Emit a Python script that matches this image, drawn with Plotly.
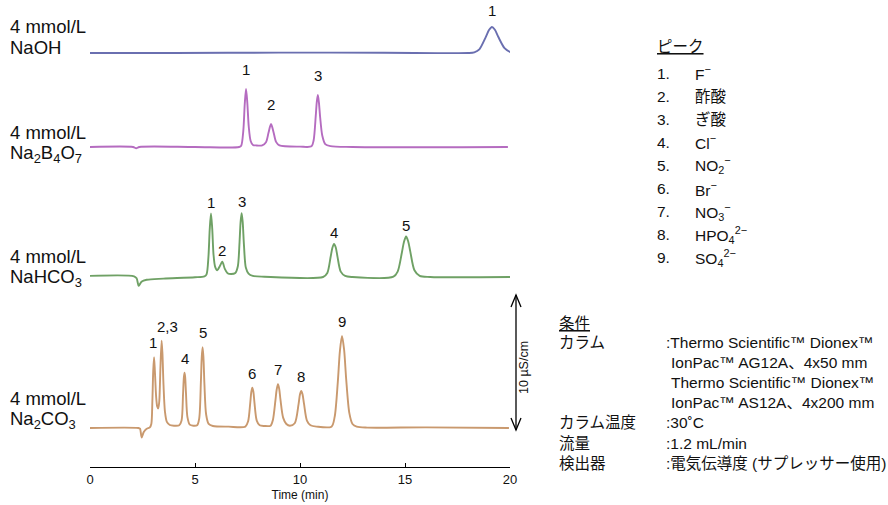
import plotly.graph_objects as go

# ---------------- data ----------------
# Time axis in minutes, signal in µS/cm relative to each trace's baseline
naoh_t = [0.0, 4.0, 9.0, 14.0, 18.0, 18.3, 18.54, 18.84, 19.0, 19.14, 19.28, 19.44, 19.74, 20.0, 20.24]
naoh_y = [0.0, 0.0, 0.03, 0.02, 0.0, 0.05, 0.27, 1.16, 1.7, 1.93, 1.72, 1.2, 0.36, 0.08, 0.0]

b4o7_t = [0.0, 2.05, 2.2, 2.35, 5.0, 7.1, 7.2, 7.3, 7.37, 7.43, 7.49, 7.56, 7.65, 7.76, 7.9,
          8.2, 8.38, 8.5, 8.62, 8.74, 8.86, 9.02, 10.0, 10.55, 10.65, 10.75, 10.8, 10.85, 10.9,
          10.96, 11.06, 11.2, 11.45, 12.5, 19.9]
b4o7_y = [0.0, 0.0, -0.09, 0.0, 0.0, 0.0, 0.1, 1.2, 3.2, 4.3, 3.3, 1.5, 0.45, 0.15, 0.12,
          0.12, 0.35, 1.05, 1.7, 1.1, 0.38, 0.12, 0.03, 0.05, 0.5, 2.3, 3.35, 3.85, 3.3,
          2.2, 0.85, 0.22, 0.06, 0.0, 0.0]

hco3_t = [0.0, 2.1, 2.22, 2.32, 2.45, 2.7, 3.5, 5.0, 5.45, 5.55, 5.64, 5.7, 5.76, 5.82, 5.88,
          5.96, 6.06, 6.18, 6.3, 6.42, 6.55, 6.72, 6.92, 7.04, 7.12, 7.17, 7.22, 7.27, 7.33,
          7.42, 7.55, 7.75, 8.3, 11.1, 11.3, 11.46, 11.54, 11.62, 11.7, 11.78, 11.94, 12.15,
          12.5, 14.45, 14.65, 14.85, 14.95, 15.05, 15.15, 15.25, 15.45, 15.7, 16.2, 20.1]
hco3_y = [0.08, 0.05, -0.1, -0.65, -0.35, -0.2, -0.12, -0.02, 0.05, 0.2, 1.5, 3.5, 4.7, 3.6, 1.7,
          0.75, 0.5, 0.8, 1.13, 0.6, 0.28, 0.22, 0.3, 0.8, 2.55, 4.05, 4.72, 4.1, 2.4,
          0.7, 0.25, 0.08, 0.02, 0.0, 0.3, 1.5, 2.15, 2.45, 2.2, 1.55, 0.4, 0.08,
          0.0, 0.02, 0.4, 1.8, 2.6, 3.0, 2.65, 1.9, 0.5, 0.08, 0.0, 0.0]

co3_t = [0.0, 2.3, 2.38, 2.46, 2.56, 2.7, 2.85, 2.92, 2.97, 3.01, 3.05, 3.09, 3.15, 3.2, 3.25,
         3.3, 3.35, 3.41, 3.45, 3.5, 3.57, 3.66, 3.8, 4.0, 4.25, 4.36, 4.43, 4.47, 4.5, 4.53,
         4.57, 4.64, 4.75, 4.92, 5.1, 5.2, 5.28, 5.32, 5.36, 5.4, 5.45, 5.53, 5.65, 5.85, 6.6,
         7.4, 7.53, 7.63, 7.68, 7.73, 7.78, 7.83, 7.94, 8.08, 8.3, 8.6, 8.71, 8.83, 8.89, 8.95,
         9.01, 9.07, 9.2, 9.35, 9.52, 9.75, 9.93, 10.0, 10.06, 10.12, 10.19, 10.33, 10.5, 10.8,
         11.5, 11.65, 11.8, 11.9, 12.0, 12.1, 12.2, 12.35, 12.5, 12.7, 13.2, 16.0, 19.95]
co3_y = [0.0, 0.0, -0.05, -0.7, -0.3, -0.05, 0.05, 0.3, 2.0, 4.2, 5.24, 4.2, 2.3, 1.6, 1.45,
         2.0, 4.3, 6.47, 5.5, 3.2, 1.2, 0.45, 0.22, 0.17, 0.2, 0.55, 2.5, 3.75, 4.1, 3.8,
         2.6, 0.8, 0.25, 0.17, 0.2, 0.7, 3.4, 5.2, 5.98, 5.3, 3.2, 1.0, 0.3, 0.15, 0.1,
         0.1, 0.5, 1.85, 2.65, 2.99, 2.7, 1.9, 0.55, 0.2, 0.15, 0.17, 0.6, 2.05, 2.85, 3.24,
         2.9, 2.1, 0.75, 0.3, 0.17, 0.35, 1.75, 2.5, 2.74, 2.5, 1.8, 0.55, 0.2, 0.1,
         0.1, 0.82, 3.4, 5.7, 6.81, 5.8, 3.6, 1.1, 0.3, 0.1, 0.03, 0.05, 0.0]

naoh_peaks = ["1"]
naoh_peak_t = [19.14]
b4o7_peaks = ["1", "2", "3"]
b4o7_peak_t = [7.43, 8.62, 10.85]
hco3_peaks = ["1", "2", "3", "4", "5"]
hco3_peak_t = [5.76, 6.3, 7.22, 11.62, 15.05]
co3_peaks = ["1", "2,3", "4", "5", "6", "7", "8", "9"]
co3_peak_t = [3.0, 3.67, 4.5, 5.36, 7.73, 8.95, 10.06, 12.0]

eluent_conc = "4 mmol/L"
eluents = ["NaOH", "Na<sub>2</sub>B<sub>4</sub>O<sub>7</sub>", "NaHCO<sub>3</sub>",
           "Na<sub>2</sub>CO<sub>3</sub>"]

x_ticks = [0, 5, 10, 15, 20]
x_title = "Time (min)"
scale_value = 10
scale_label = "10 µS/cm"

peak_title = "ピーク"
peak_numbers = ["1.", "2.", "3.", "4.", "5.", "6.", "7.", "8.", "9."]
peak_names = ["F<sup>−</sup>", "酢酸", "ぎ酸", "Cl<sup>−</sup>", "NO<sub>2</sub><sup>−</sup>",
              "Br<sup>−</sup>", "NO<sub>3</sub><sup>−</sup>", "HPO<sub>4</sub><sup>2−</sup>",
              "SO<sub>4</sub><sup>2−</sup>"]

cond_title = "条件"
cond_labels = ["カラム", "", "", "", "カラム温度", "流量", "検出器"]
cond_values = [":Thermo Scientific™ Dionex™", "IonPac™ AG12A、4x50 mm",
               "Thermo Scientific™ Dionex™", "IonPac™ AS12A、4x200 mm",
               ":30˚C", ":1.2 mL/min", ":電気伝導度 (サプレッサー使用)"]

# ---------------- layout constants ----------------
W, H = 888, 505
PX_PER_UNIT = 13.5
AXIS_Y_PX = 467
X0_PX, X1_PX = 90, 510
FONT = "Liberation Sans, Arial, Noto Sans CJK JP, sans-serif"
TXT = "#111111"


def pxx(x):
    return x / W


def pxy(y):
    return 1 - y / H


def base_of(px_y):
    return (AXIS_Y_PX - px_y) / PX_PER_UNIT


def val_to_paper(v):
    # data value on the (hidden) y axis -> paper fraction
    return (H - AXIS_Y_PX) / H + v * PX_PER_UNIT / H


traces = [
    dict(t=naoh_t, y=naoh_y, color="#6a6fb0", base_px=53, labels=naoh_peaks, label_t=naoh_peak_t,
         shift=6, txt_px=(26, 48)),
    dict(t=b4o7_t, y=b4o7_y, color="#b56cc0", base_px=147, labels=b4o7_peaks, label_t=b4o7_peak_t,
         shift=9, txt_px=(132, 154)),
    dict(t=hco3_t, y=hco3_y, color="#6fa165", base_px=277, labels=hco3_peaks, label_t=hco3_peak_t,
         shift=1, txt_px=(256, 278)),
    dict(t=co3_t, y=co3_y, color="#c9996e", base_px=428, labels=co3_peaks, label_t=co3_peak_t,
         shift=4, txt_px=(398, 420)),
]

fig = go.Figure()
annotations = []
shapes = []

for tr, eluent in zip(traces, eluents):
    assert len(tr["t"]) == len(tr["y"])
    off = base_of(tr["base_px"])
    fig.add_trace(go.Scatter(
        x=tr["t"], y=[v + off for v in tr["y"]], mode="lines",
        line=dict(color=tr["color"], width=1.9, shape="spline", smoothing=0.8),
        hoverinfo="skip", showlegend=False, cliponaxis=False))
    for lab, lt in zip(tr["labels"], tr["label_t"]):
        apex = max(v for t, v in zip(tr["t"], tr["y"]) if abs(t - lt) <= 0.3)
        annotations.append(dict(x=lt, y=apex + off, xref="x", yref="y", text=lab, showarrow=False,
                                xanchor="center", yanchor="bottom", yshift=tr["shift"],
                                font=dict(size=15, color=TXT)))
    annotations.append(dict(x=pxx(8), y=pxy(tr["txt_px"][0]), xref="paper", yref="paper",
                            text=eluent_conc, showarrow=False, xanchor="left", yanchor="middle",
                            font=dict(size=18.5, color=TXT)))
    annotations.append(dict(x=pxx(8), y=pxy(tr["txt_px"][1]), xref="paper", yref="paper",
                            text=eluent, showarrow=False, xanchor="left", yanchor="middle",
                            font=dict(size=18.5, color=TXT)))

# scale bar (10 µS/cm) next to the bottom trace
co3_base = base_of(traces[3]["base_px"]) - 0.15
bar_x = pxx(516)
y_lo = val_to_paper(co3_base)
y_hi = val_to_paper(co3_base + scale_value)
shapes.append(dict(type="line", x0=bar_x, x1=bar_x, y0=y_lo, y1=y_hi,
                   xref="paper", yref="paper", line=dict(color="black", width=1.3)))
shapes.append(dict(type="path", xref="paper", yref="paper", xsizemode="pixel", ysizemode="pixel",
                   xanchor=bar_x, yanchor=y_hi,
                   path="M -5,-12 L 0,0 L 5,-12", line=dict(color="black", width=1.3)))
shapes.append(dict(type="path", xref="paper", yref="paper", xsizemode="pixel", ysizemode="pixel",
                   xanchor=bar_x, yanchor=y_lo,
                   path="M -5,12 L 0,0 L 5,12", line=dict(color="black", width=1.3)))
annotations.append(dict(x=pxx(524), y=pxy(368), xref="paper", yref="paper", text=scale_label,
                        textangle=-90, showarrow=False, xanchor="center", yanchor="middle",
                        font=dict(size=12.5, color=TXT)))

# peak legend
annotations.append(dict(x=pxx(655), y=pxy(47), xref="paper", yref="paper",
                        text="<u>" + peak_title + "</u>", showarrow=False, xanchor="left",
                        yanchor="middle", font=dict(size=15.5, color=TXT)))
for i, (num, name) in enumerate(zip(peak_numbers, peak_names)):
    yy = 73 + i * 23.1
    annotations.append(dict(x=pxx(655), y=pxy(yy), xref="paper", yref="paper", text=num,
                            showarrow=False, xanchor="left", yanchor="middle",
                            font=dict(size=15.5, color=TXT)))
    annotations.append(dict(x=pxx(693), y=pxy(yy), xref="paper", yref="paper", text=name,
                            showarrow=False, xanchor="left", yanchor="middle",
                            font=dict(size=15.5, color=TXT)))

# conditions
annotations.append(dict(x=pxx(557), y=pxy(323), xref="paper", yref="paper",
                        text="<u>" + cond_title + "</u>", showarrow=False, xanchor="left",
                        yanchor="middle", font=dict(size=15.5, color=TXT)))
for i, (lab, val) in enumerate(zip(cond_labels, cond_values)):
    yy = 342 + i * 20.2
    if lab:
        annotations.append(dict(x=pxx(557), y=pxy(yy), xref="paper", yref="paper", text=lab,
                                showarrow=False, xanchor="left", yanchor="middle",
                                font=dict(size=15.5, color=TXT)))
    vx = 664 if val.startswith(":") else 669
    annotations.append(dict(x=pxx(vx), y=pxy(yy), xref="paper", yref="paper", text=val,
                            showarrow=False, xanchor="left", yanchor="middle",
                            font=dict(size=15.5, color=TXT)))

fig.update_layout(
    width=W, height=H,
    margin=dict(l=0, r=0, t=0, b=0, pad=0),
    paper_bgcolor="white", plot_bgcolor="white",
    font=dict(family=FONT, color=TXT),
    xaxis=dict(domain=[X0_PX / W, X1_PX / W], range=[0, 20], showline=True, linecolor="black",
               linewidth=1.3, ticks="inside", ticklen=4, tickcolor="black", tickwidth=1.2,
               tickvals=x_ticks, ticktext=[str(v) for v in x_ticks], tickfont=dict(size=13),
               showgrid=False, zeroline=False, automargin=False,
               title=dict(text=x_title, font=dict(size=12), standoff=4), fixedrange=True),
    yaxis=dict(domain=[(H - AXIS_Y_PX) / H, 1], range=[0, AXIS_Y_PX / PX_PER_UNIT], visible=False,
               showgrid=False, zeroline=False, fixedrange=True),
    annotations=annotations,
    shapes=shapes,
    showlegend=False,
)

fig.write_html("out.html", config={"displayModeBar": False},
               post_script="document.body.style.margin='0px';document.body.style.overflow='hidden';")
